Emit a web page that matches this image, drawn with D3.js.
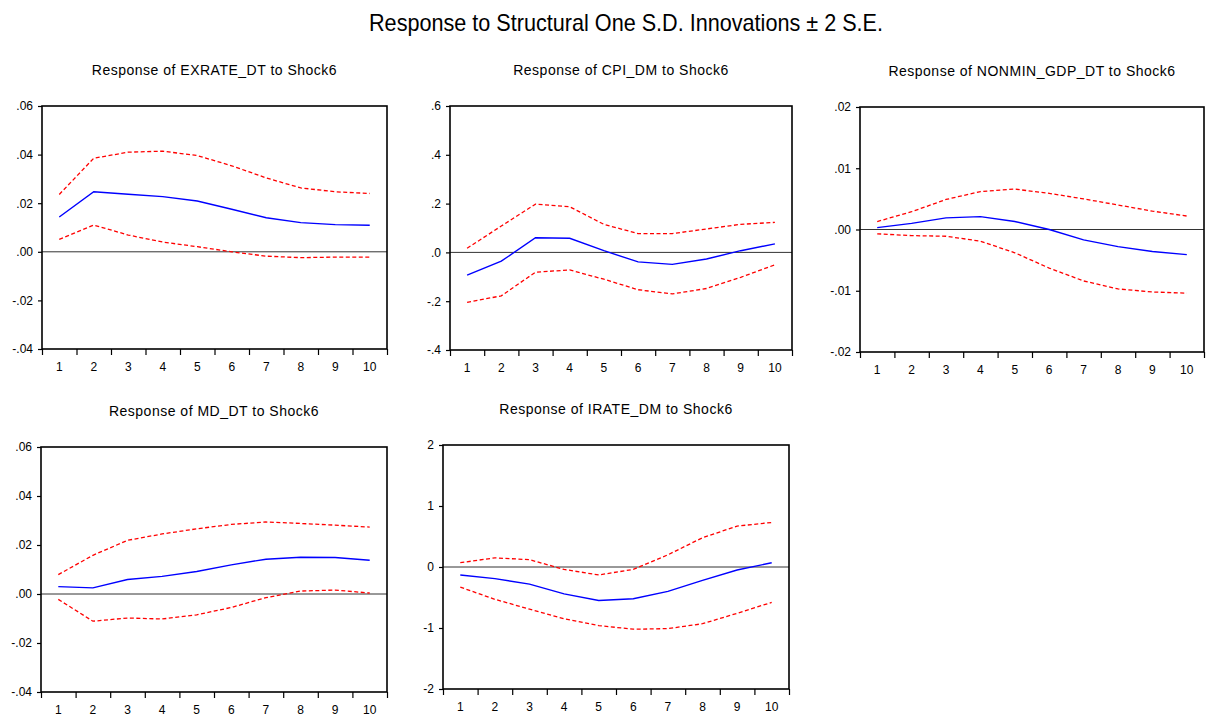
<!DOCTYPE html>
<html>
<head>
<meta charset="utf-8">
<script src="https://cdn.jsdelivr.net/npm/d3@7"></script>
<style>
  html, body { margin: 0; padding: 0; background: #fff; }
  svg { display: block; }
  text { font-family: "Liberation Sans", Arial, sans-serif; fill: #000; }
</style>
</head>
<body>
<svg id="chart" width="1206" height="717"></svg>
<script>
// Impulse-response horizons
const periods = [1, 2, 3, 4, 5, 6, 7, 8, 9, 10];

// EXRATE_DT response (point estimate and ±2 S.E. bands)
const exrateResp  = [0.0143, 0.0247, 0.0237, 0.0227, 0.0209, 0.0175, 0.0140, 0.0120, 0.0112, 0.0109];
const exrateUpper = [0.0236, 0.0385, 0.0410, 0.0414, 0.0396, 0.0354, 0.0304, 0.0263, 0.0247, 0.0240];
const exrateLower = [0.0051, 0.0110, 0.0069, 0.0040, 0.0021, 0.0000, -0.0018, -0.0024, -0.0022, -0.0022];

// CPI_DM response
const cpiResp  = [-0.093, -0.036, 0.060, 0.058, 0.007, -0.039, -0.049, -0.027, 0.007, 0.035];
const cpiUpper = [0.017, 0.108, 0.198, 0.187, 0.115, 0.077, 0.077, 0.096, 0.115, 0.123];
const cpiLower = [-0.205, -0.178, -0.081, -0.072, -0.110, -0.153, -0.170, -0.148, -0.102, -0.051];

// NONMIN_GDP_DT response
const gdpResp  = [0.0003, 0.0010, 0.0019, 0.0021, 0.0013, 0.0000, -0.0017, -0.0028, -0.0036, -0.0041];
const gdpUpper = [0.0013, 0.0029, 0.0049, 0.0062, 0.0066, 0.0059, 0.0050, 0.0040, 0.0030, 0.0022];
const gdpLower = [-0.0007, -0.0010, -0.0011, -0.0019, -0.0038, -0.0063, -0.0084, -0.0097, -0.0102, -0.0104];

// MD_DT response
const mdResp  = [0.0030, 0.0025, 0.0059, 0.0072, 0.0092, 0.0119, 0.0142, 0.0150, 0.0149, 0.0138];
const mdUpper = [0.0079, 0.0158, 0.0219, 0.0245, 0.0266, 0.0284, 0.0294, 0.0288, 0.0281, 0.0273];
const mdLower = [-0.0022, -0.0111, -0.0098, -0.0102, -0.0085, -0.0055, -0.0015, 0.0012, 0.0016, 0.0004];

// IRATE_DM response
const irateResp  = [-0.13, -0.19, -0.28, -0.44, -0.55, -0.52, -0.40, -0.22, -0.05, 0.07];
const irateUpper = [0.07, 0.15, 0.12, -0.04, -0.13, -0.04, 0.20, 0.48, 0.67, 0.73];
const irateLower = [-0.33, -0.53, -0.69, -0.85, -0.96, -1.02, -1.01, -0.93, -0.76, -0.58];

// Y-axis tick values and their printed labels
const ticksSmall = [-0.04, -0.02, 0.00, 0.02, 0.04, 0.06];
const labelsSmall = ["-.04", "-.02", ".00", ".02", ".04", ".06"];
const ticksCpi = [-0.4, -0.2, 0.0, 0.2, 0.4, 0.6];
const labelsCpi = ["-.4", "-.2", ".0", ".2", ".4", ".6"];
const ticksGdp = [-0.02, -0.01, 0.00, 0.01, 0.02];
const labelsGdp = ["-.02", "-.01", ".00", ".01", ".02"];
const ticksIrate = [-2, -1, 0, 1, 2];
const labelsIrate = ["-2", "-1", "0", "1", "2"];

const mainTitle = "Response to Structural One S.D. Innovations \u00B1 2 S.E.";
const panelTitles = [
  "Response of EXRATE_DT to Shock6",
  "Response of CPI_DM to Shock6",
  "Response of NONMIN_GDP_DT to Shock6",
  "Response of MD_DT to Shock6",
  "Response of IRATE_DM to Shock6"
];

const panels = [
  { title: panelTitles[0], resp: exrateResp, upper: exrateUpper, lower: exrateLower,
    ticks: ticksSmall, labels: labelsSmall, box: [42, 106, 387, 349] },
  { title: panelTitles[1], resp: cpiResp, upper: cpiUpper, lower: cpiLower,
    ticks: ticksCpi, labels: labelsCpi, box: [450, 106, 792, 350] },
  { title: panelTitles[2], resp: gdpResp, upper: gdpUpper, lower: gdpLower,
    ticks: ticksGdp, labels: labelsGdp, box: [860, 107, 1204, 352] },
  { title: panelTitles[3], resp: mdResp, upper: mdUpper, lower: mdLower,
    ticks: ticksSmall, labels: labelsSmall, box: [41, 447, 387, 692] },
  { title: panelTitles[4], resp: irateResp, upper: irateUpper, lower: irateLower,
    ticks: ticksIrate, labels: labelsIrate, box: [443, 445, 789, 689] }
];

const svg = d3.select("#chart");

svg.append("text")
  .attr("x", 626).attr("y", 31)
  .attr("text-anchor", "middle")
  .attr("font-size", 24)
  .attr("textLength", 514)
  .attr("lengthAdjust", "spacingAndGlyphs")
  .text(mainTitle);

const boundaries = d3.range(0.5, 11, 1);

panels.forEach(p => {
  const [x0, y0, x1, y1] = p.box;
  const x = d3.scaleLinear().domain([0.5, 10.5]).range([x0, x1]);
  const y = d3.scaleLinear().domain(d3.extent(p.ticks)).range([y1, y0]);
  const g = svg.append("g");

  g.append("text")
    .attr("x", (x0 + x1) / 2).attr("y", y0 - 31)
    .attr("text-anchor", "middle")
    .attr("font-size", 14)
    .attr("letter-spacing", 0.5)
    .text(p.title);

  // x axis: tick marks on period boundaries, labels on periods
  const xAxis = d3.axisBottom(x).tickValues(boundaries).tickSize(6).tickFormat("");
  const xg = g.append("g").attr("transform", `translate(0,${y1})`).call(xAxis);
  xg.select(".domain").remove();
  xg.selectAll(".tick line").attr("stroke", "#000").attr("stroke-width", 1.2);

  g.selectAll(".xlab").data(periods).join("text")
    .attr("x", d => x(d)).attr("y", y1 + 22)
    .attr("text-anchor", "middle")
    .attr("font-size", 12)
    .text(d => d);

  // y axis
  const yAxis = d3.axisLeft(y).tickValues(p.ticks).tickSize(4).tickPadding(5)
    .tickFormat((d, i) => p.labels[i]);
  const yg = g.append("g").attr("transform", `translate(${x0},0)`).call(yAxis);
  yg.select(".domain").remove();
  yg.selectAll(".tick line").attr("stroke", "#000").attr("stroke-width", 1.2);
  yg.selectAll(".tick text").attr("font-size", 12).attr("font-family", "Liberation Sans, Arial, sans-serif").attr("fill", "#000");

  // zero reference line
  g.append("line")
    .attr("x1", x0).attr("x2", x1)
    .attr("y1", y(0)).attr("y2", y(0))
    .attr("stroke", "#333").attr("stroke-width", 1);

  const line = d3.line().x((d, i) => x(periods[i])).y(d => y(d));

  g.append("path").datum(p.upper)
    .attr("d", line).attr("fill", "none")
    .attr("stroke", "#ff0000").attr("stroke-width", 1.3)
    .attr("stroke-dasharray", "4,2.5");
  g.append("path").datum(p.lower)
    .attr("d", line).attr("fill", "none")
    .attr("stroke", "#ff0000").attr("stroke-width", 1.3)
    .attr("stroke-dasharray", "4,2.5");
  g.append("path").datum(p.resp)
    .attr("d", line).attr("fill", "none")
    .attr("stroke", "#0000ff").attr("stroke-width", 1.4);

  // plot frame
  g.append("rect")
    .attr("x", x0).attr("y", y0)
    .attr("width", x1 - x0).attr("height", y1 - y0)
    .attr("fill", "none").attr("stroke", "#000").attr("stroke-width", 1.6);
});
</script>
</body>
</html>
